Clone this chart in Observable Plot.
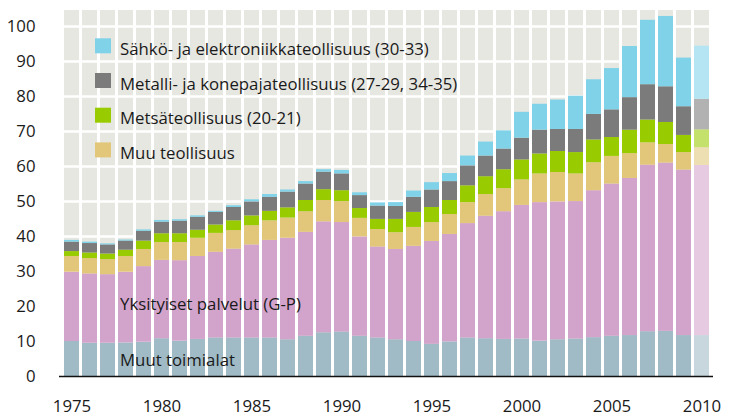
<!DOCTYPE html>
<html><head><meta charset="utf-8">
<script src="https://cdn.jsdelivr.net/npm/d3@7"></script>
<script src="https://cdn.jsdelivr.net/npm/@observablehq/plot@0.6"></script>
<style>
body{margin:0;background:#fff;}
#chart{width:732px;height:417px;}
</style></head><body><div id="chart"></div>
<script>
const years = [1975,1976,1977,1978,1979,1980,1981,1982,1983,1984,1985,1986,1987,1988,1989,1990,1991,1992,1993,1994,1995,1996,1997,1998,1999,2000,2001,2002,2003,2004,2005,2006,2007,2008,2009,2010];
const muutToimialat      = [10.0,9.5,9.5,9.6,9.8,10.8,10.1,10.6,11.0,11.0,11.0,11.0,10.5,11.5,12.5,12.7,11.5,11.0,10.5,10.0,9.2,9.9,11.0,10.8,10.6,10.7,10.1,10.5,10.7,11.1,11.5,11.7,12.8,12.9,11.7,11.7];
const yksityisetPalvelut = [19.8,19.8,19.6,20.2,21.6,22.4,23.0,23.7,24.5,25.4,26.6,27.9,29.0,29.7,31.7,31.3,28.4,26.0,25.8,27.2,29.4,30.7,32.7,35.0,36.5,38.2,39.6,39.4,39.3,42.0,43.5,44.9,47.6,48.1,47.3,48.6];
const muuTeollisuus      = [4.5,4.4,4.3,4.5,4.9,5.1,5.2,5.2,5.4,5.3,5.5,5.6,5.8,5.9,6.1,6.0,5.3,5.0,4.8,5.4,5.4,5.7,6.0,6.2,6.6,7.3,8.2,8.4,7.9,8.0,7.9,7.1,6.4,5.3,5.0,5.1];
const metsateollisuus    = [1.4,1.6,1.6,1.8,2.4,2.5,2.5,2.3,2.4,2.8,2.8,2.7,2.9,3.2,3.1,3.1,2.8,2.9,3.8,4.3,4.3,4.0,4.8,5.1,5.4,5.7,5.7,6.0,6.1,6.5,5.4,6.7,6.5,6.3,4.9,5.1];
const metalliKonepaja    = [2.7,2.7,2.6,2.6,2.8,3.3,3.6,3.7,3.6,3.8,4.0,4.0,4.5,4.7,5.0,4.8,3.7,3.8,3.7,4.3,5.0,5.4,5.7,5.9,5.9,6.2,6.8,6.3,6.6,7.3,7.9,9.3,10.1,10.2,8.2,8.7];
const sahkoElektroniikka = [0.5,0.4,0.3,0.3,0.4,0.5,0.4,0.4,0.3,0.5,0.6,0.8,0.6,0.7,0.7,1.0,0.8,0.9,1.1,1.8,2.1,2.3,2.8,4.0,5.2,7.4,7.4,8.4,9.5,9.9,11.8,14.6,18.4,20.1,13.9,15.2];

const seriesNames = ["Muut toimialat","Yksityiset palvelut (G-P)","Muu teollisuus","Metsäteollisuus (20-21)","Metalli- ja konepajateollisuus (27-29, 34-35)","Sähkö- ja elektroniikkateollisuus (30-33)"];
const seriesValues = [muutToimialat, yksityisetPalvelut, muuTeollisuus, metsateollisuus, metalliKonepaja, sahkoElektroniikka];
const seriesColors = ["#a0bac6","#d3a4cb","#e2c77b","#99cc00","#7b7b7b","#7fd2e8"];
const estimateYears = [2010];
const yTicks = [0,10,20,30,40,50,60,70,80,90,100];
const xTicks = [1975,1980,1985,1990,1995,2000,2005,2010];
const legendSeries = [5,4,3,2];

const yTop = 104.6;
const table = [];
years.forEach((yr, i) => {
  seriesValues.forEach((arr, s) => {
    const base = seriesColors[s];
    const fill = estimateYears.includes(yr) ? d3.interpolateRgb(base, "#ffffff")(0.42) : base;
    table.push({year: yr, series: seriesNames[s], value: arr[i], fill});
  });
});

const font = "'Open Sans', sans-serif";
const fs = "16.8px";
const chart = Plot.plot({
  width: 732, height: 417,
  marginLeft: 59, marginRight: 19, marginTop: 10, marginBottom: 41,
  style: {fontFamily: font, fontSize: fs, color: "#1a1a1a", background: "#ffffff"},
  x: {type: "band", domain: years, paddingInner: 0.17, paddingOuter: 0, ticks: xTicks, tickSize: 0, tickPadding: 24, label: null, tickFormat: d => String(d)},
  y: {domain: [0, yTop], ticks: yTicks, tickSize: 0, tickPadding: 24, label: null},
  color: {type: "identity"},
  marks: [
    Plot.barY(years, {x: d => d, y: yTop, fill: "#e7e7e1"}),
    Plot.ruleY(yTicks.filter(d => d > 0), {stroke: "#ffffff", strokeWidth: 2.5}),
    Plot.barY(table, {x: "year", y: "value", z: "series", fill: "fill"}),
    Plot.ruleY([0], {stroke: "#111", strokeWidth: 1.5})
  ]
});

const svg = d3.select(chart);
const g = svg.append("g")
  .attr("font-family", font).attr("font-size", fs)
  .attr("fill", "#1a1a1a").attr("text-anchor", "start");
legendSeries.forEach((s, k) => {
  const cy = 45.8 + k * 34.7;
  g.append("rect").attr("x", 95).attr("y", cy - 7.5).attr("width", 16).attr("height", 15).attr("fill", seriesColors[s]);
  g.append("text").attr("x", 120).attr("y", cy + 9.2).attr("text-anchor", "start").text(seriesNames[s]);
});
g.append("text").attr("x", 120).attr("y", 309.5).attr("text-anchor", "start").text(seriesNames[1]);
g.append("text").attr("x", 120).attr("y", 366).attr("text-anchor", "start").text(seriesNames[0]);

document.getElementById("chart").appendChild(chart);
</script>
</body></html>
